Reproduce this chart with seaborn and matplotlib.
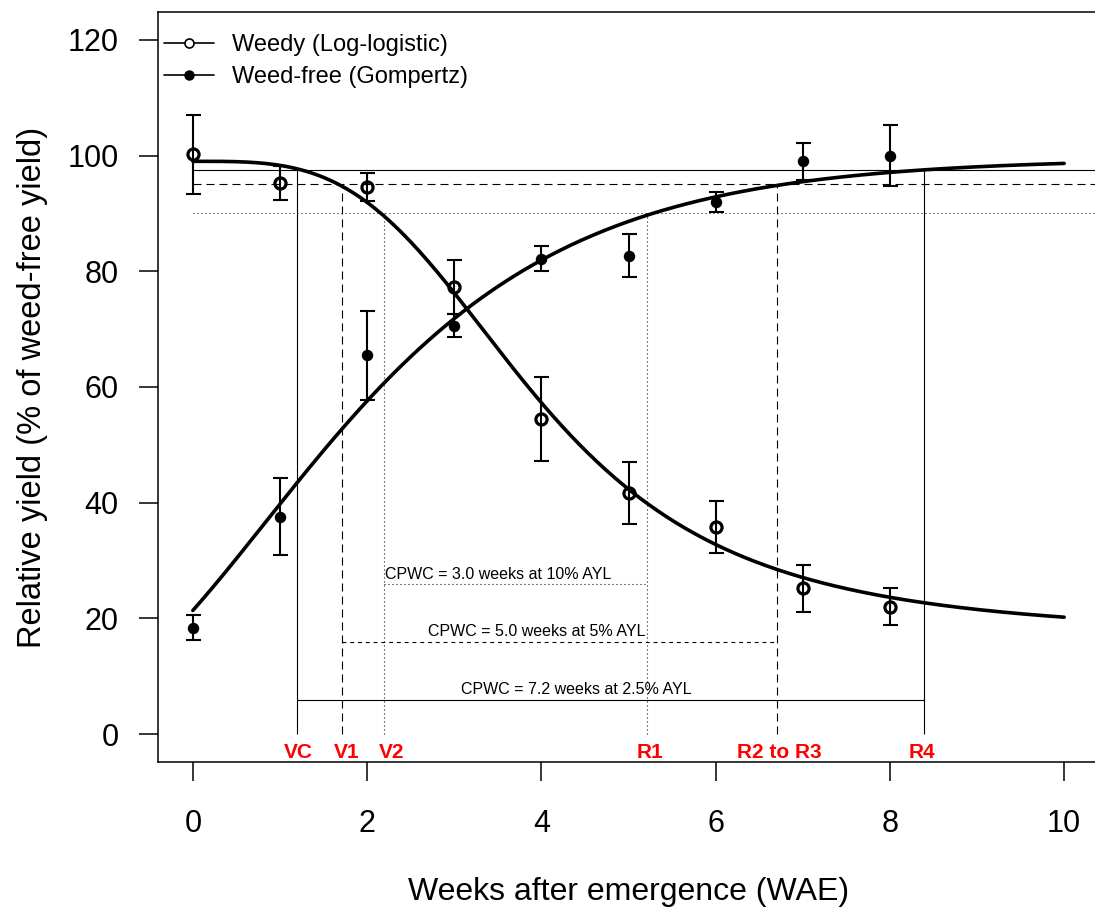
import numpy as np
import matplotlib
matplotlib.use("Agg")
import matplotlib.pyplot as plt
import seaborn as sns
from matplotlib.lines import Line2D

# observed relative yield (mean +/- SE) by weeks after emergence
weeks = [0, 1, 2, 3, 4, 5, 6, 7, 8]
weedy_mean = [100.2, 95.3, 94.6, 77.3, 54.5, 41.7, 35.8, 25.2, 22.0]
weedy_se = [6.8, 2.9, 2.4, 4.7, 7.25, 5.4, 4.55, 4.05, 3.2]
free_mean = [18.4, 37.6, 65.5, 70.6, 82.2, 82.7, 92.0, 99.0, 100.0]
free_se = [2.2, 6.7, 7.7, 2.0, 2.1, 3.75, 1.7, 3.2, 5.3]

# fitted model parameters
ll_b, ll_c, ll_d, ll_e = 3.45, 17.0, 99.0, 3.96      # log-logistic (weedy)
gz_b, gz_d, gz_e = 0.517, 99.5, 0.832                # Gompertz (weed-free)

# critical period: acceptable yield loss levels and their onset / end
ayl = [2.5, 5, 10]
thresholds = [97.5, 95, 90]
onset = [1.20, 1.71, 2.19]
end = [8.39, 6.71, 5.21]
cpwc_bar_y = [6, 16, 26]
cpwc_text_x = [4.40, 3.95, 3.50]

stages = ["VC", "V1", "V2", "R1", "R2 to R3", "R4"]
stage_x = [1.21, 1.76, 2.28, 5.25, 6.73, 8.37]

line_styles = ["-", (0, (7.2, 4.5)), (0, (0.9, 2.7))]
bar_styles = ["-", (0, (3.5, 3.5)), (0, (0.9, 2.7))]

sns.set_theme(style="ticks")
plt.rcParams["font.family"] = ["Liberation Sans", "DejaVu Sans"]

fig = plt.figure(figsize=(10.95, 9.14), dpi=100)
ax = fig.add_axes([158 / 1095, 152 / 914, 941 / 1095, 750 / 914])
ax.set_xlim(-0.4, 10.4)
ax.set_ylim(-4.8, 124.8)

# threshold lines, onset / end verticals and CPWC bars
for i in range(len(ayl)):
    ls = line_styles[i]
    ax.hlines(thresholds[i], 0, 10.6, colors="black", lw=0.8, linestyles=[ls], zorder=1)
    ax.vlines([onset[i], end[i]], 0, thresholds[i], colors="black", lw=0.8,
              linestyles=[ls], zorder=1)
    ax.hlines(cpwc_bar_y[i], onset[i], end[i], colors="black", lw=0.8,
              linestyles=[bar_styles[i]], zorder=1)
    ax.text(cpwc_text_x[i], cpwc_bar_y[i] + 0.9,
            f"CPWC = {end[i] - onset[i]:.1f} weeks at {ayl[i]:g}% AYL",
            fontsize=11.5, ha="center", va="baseline", color="black")

# fitted curves
x_fit = np.linspace(0, 10, 301)
weedy_fit = ll_c + (ll_d - ll_c) / (1 + (x_fit / ll_e) ** ll_b)
free_fit = gz_d * np.exp(-np.exp(-gz_b * (x_fit - gz_e)))
sns.lineplot(x=x_fit, y=weedy_fit, color="black", lw=2.6, ax=ax, zorder=4)
sns.lineplot(x=x_fit, y=free_fit, color="black", lw=2.6, ax=ax, zorder=4)

# observations with error bars
ax.errorbar(weeks, weedy_mean, yerr=weedy_se, fmt="none", ecolor="black",
            elinewidth=1.5, capsize=5.4, capthick=1.5, zorder=3)
ax.errorbar(weeks, free_mean, yerr=free_se, fmt="none", ecolor="black",
            elinewidth=1.5, capsize=5.4, capthick=1.5, zorder=3)
ax.plot(weeks, weedy_mean, "o", mfc="none", mec="black", mew=2.3, ms=8, zorder=5)
sns.scatterplot(x=weeks, y=free_mean, color="black", s=68, linewidth=0, ax=ax, zorder=5)

# growth stage labels
for lbl, xs in zip(stages, stage_x):
    ax.text(xs, -4.15, lbl, color="#FF0000", fontsize=15, fontweight="bold",
            ha="center", va="baseline")

handles = [
    Line2D([], [], color="black", lw=1.2, marker="o", mfc="white", mec="black", ms=6.5, mew=1.2),
    Line2D([], [], color="black", lw=1.2, marker="o", mfc="black", mec="black", ms=6.5),
]
ax.legend(handles, ["Weedy (Log-logistic)", "Weed-free (Gompertz)"], loc="upper left",
          bbox_to_anchor=(0.0064, 0.97), frameon=False, fontsize=17, labelcolor="black",
          handlelength=2.1, handletextpad=0.8, labelspacing=0.4, borderpad=0,
          borderaxespad=0)

ax.set_xticks(range(0, 11, 2))
ax.set_yticks(range(0, 121, 20))
ax.tick_params(axis="both", direction="out", length=14, width=1.1, labelsize=22,
               color="black", labelcolor="black")
ax.tick_params(axis="x", pad=19.5)
ax.tick_params(axis="y", pad=14.4)
for sp in ax.spines.values():
    sp.set_visible(True)
    sp.set_linewidth(1.1)
    sp.set_color("black")

ax.set_xlabel("Weeks after emergence (WAE)", fontsize=23, labelpad=28, color="black")
ax.set_ylabel("Relative yield (% of weed-free yield)", fontsize=23.5, labelpad=14, color="black")

fig.savefig("out.png", dpi=100)
